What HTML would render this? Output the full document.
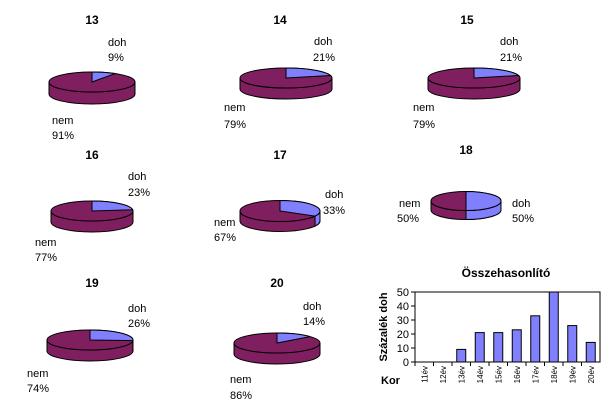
<!DOCTYPE html><html><head><meta charset="utf-8"><style>
body{margin:0;background:#fff}
svg{display:block}
text{font-family:"Liberation Sans",sans-serif;font-size:11px;fill:#000}
.t{font-weight:bold;font-size:12px}
</style></head><body>
<svg id="s" width="615" height="408" xmlns="http://www.w3.org/2000/svg">
<g id="pies"></g>
<text class="t" x="92" y="24" text-anchor="middle">13</text>
<text class="t" x="280" y="24" text-anchor="middle">14</text>
<text class="t" x="467" y="24" text-anchor="middle">15</text>
<text class="t" x="92" y="159" text-anchor="middle">16</text>
<text class="t" x="280" y="159" text-anchor="middle">17</text>
<text class="t" x="466" y="154" text-anchor="middle">18</text>
<text class="t" x="92" y="287" text-anchor="middle">19</text>
<text class="t" x="277" y="287" text-anchor="middle">20</text>

<text x="108" y="46">doh</text><text x="108" y="61">9%</text>
<text x="52" y="124">nem</text><text x="52" y="139">91%</text>
<text x="314" y="45">doh</text><text x="313" y="61">21%</text>
<text x="224" y="111">nem</text><text x="224" y="128">79%</text>
<text x="500" y="45">doh</text><text x="500" y="61">21%</text>
<text x="413" y="111">nem</text><text x="413" y="128">79%</text>
<text x="128" y="180">doh</text><text x="128" y="196">23%</text>
<text x="35" y="246">nem</text><text x="35" y="261">77%</text>
<text x="325" y="198">doh</text><text x="323" y="214">33%</text>
<text x="214" y="226">nem</text><text x="214" y="241">67%</text>
<text x="399" y="207">nem</text><text x="397" y="222">50%</text>
<text x="512" y="207">doh</text><text x="512" y="222">50%</text>
<text x="128" y="312">doh</text><text x="128" y="327">26%</text>
<text x="27" y="377">nem</text><text x="27" y="392">74%</text>
<text x="303" y="310">doh</text><text x="303" y="325">14%</text>
<text x="230" y="383">nem</text><text x="230" y="399">86%</text>

<text class="t" x="506" y="277" text-anchor="middle">Összehasonlító</text>
<text class="t" transform="translate(387,327) rotate(-90)" text-anchor="middle" style="font-size:11px">Százalék doh</text>
<text class="t" x="381" y="384" style="font-size:11px">Kor</text>
<g id="chart"></g>
</svg>
<script>
var NS="http://www.w3.org/2000/svg";
function el(p,tag,a){var e=document.createElementNS(NS,tag);for(var k in a)e.setAttribute(k,a[k]);p.appendChild(e);return e;}
var P="#7f1f5f",B="#8080ff";
var pies=[[92,82,43,10,12,.09],[286,78,46,10,11,.21],[474,78,46,10,11,.21],[92,211,41,10,11,.23],[280,211,40,10.5,10,.33],[466,201,35,9.5,9,.5],[90,340,43,10,11,.26],[277,343,43,10,11,.14]];
var g=document.getElementById("pies");
pies.forEach(function(p){
 var cx=p[0],cy=p[1],rx=p[2],ry=p[3],d=p[4],f=p[5];
 function pt(a,dy){return [cx+rx*Math.cos(a),cy+ry*Math.sin(a)+(dy||0)];}
 // side
 el(g,"path",{d:"M"+(cx-rx)+","+cy+" A"+rx+","+ry+" 0 0 0 "+(cx+rx)+","+cy+" L"+(cx+rx)+","+(cy+d)+" A"+rx+","+ry+" 0 0 1 "+(cx-rx)+","+(cy+d)+"Z",fill:P,stroke:"#000","stroke-width":1});
 var a1=-Math.PI/2,a2=a1+f*2*Math.PI;
 if(a2>0){var e=Math.min(a2,Math.PI);var q=pt(e),q2=pt(e,d);
  el(g,"path",{d:"M"+(cx+rx)+","+cy+" A"+rx+","+ry+" 0 0 1 "+q[0]+","+q[1]+" L"+q2[0]+","+q2[1]+" A"+rx+","+ry+" 0 0 0 "+(cx+rx)+","+(cy+d)+"Z",fill:B,stroke:"#000","stroke-width":1});}
 el(g,"ellipse",{cx:cx,cy:cy,rx:rx,ry:ry,fill:P,stroke:"#000","stroke-width":1});
 var s=pt(a1),t=pt(a2);
 el(g,"path",{d:"M"+cx+","+cy+" L"+s[0]+","+s[1]+" A"+rx+","+ry+" 0 "+(f>.5?1:0)+" 1 "+t[0]+","+t[1]+"Z",fill:B,stroke:"#000","stroke-width":1});
});
var c=document.getElementById("chart");
var x0=415,x1=600,y0=292,y1=362;
el(c,"rect",{x:x0,y:y0,width:x1-x0,height:y1-y0,fill:"#fff",stroke:"#000","stroke-width":1});
for(var i=0;i<=5;i++){var y=y1-i*(y1-y0)/5;el(c,"line",{x1:x0-4,y1:y,x2:x0,y2:y,stroke:"#000"});
 var t=el(c,"text",{x:x0-6,y:y+4,"text-anchor":"end"});t.textContent=i*10;}
var v=[0,0,9,21,21,23,33,50,26,14],w=(x1-x0)/10;
v.forEach(function(val,i){var h=val/50*(y1-y0);var bx=x0+i*w+w/2-4.5;
 if(val)el(c,"rect",{x:bx,y:y1-h,width:9,height:h,fill:B,stroke:"#000","stroke-width":1});
 el(c,"line",{x1:x0+i*w,y1:y1,x2:x0+i*w,y2:y1+4,stroke:"#000"});
 var t=el(c,"text",{transform:"translate("+(x0+i*w+w/2+3)+","+(y1+4)+") rotate(-90)","text-anchor":"end",style:"font-size:8px"});t.textContent=(11+i)+"év";});
</script>
</body></html>
